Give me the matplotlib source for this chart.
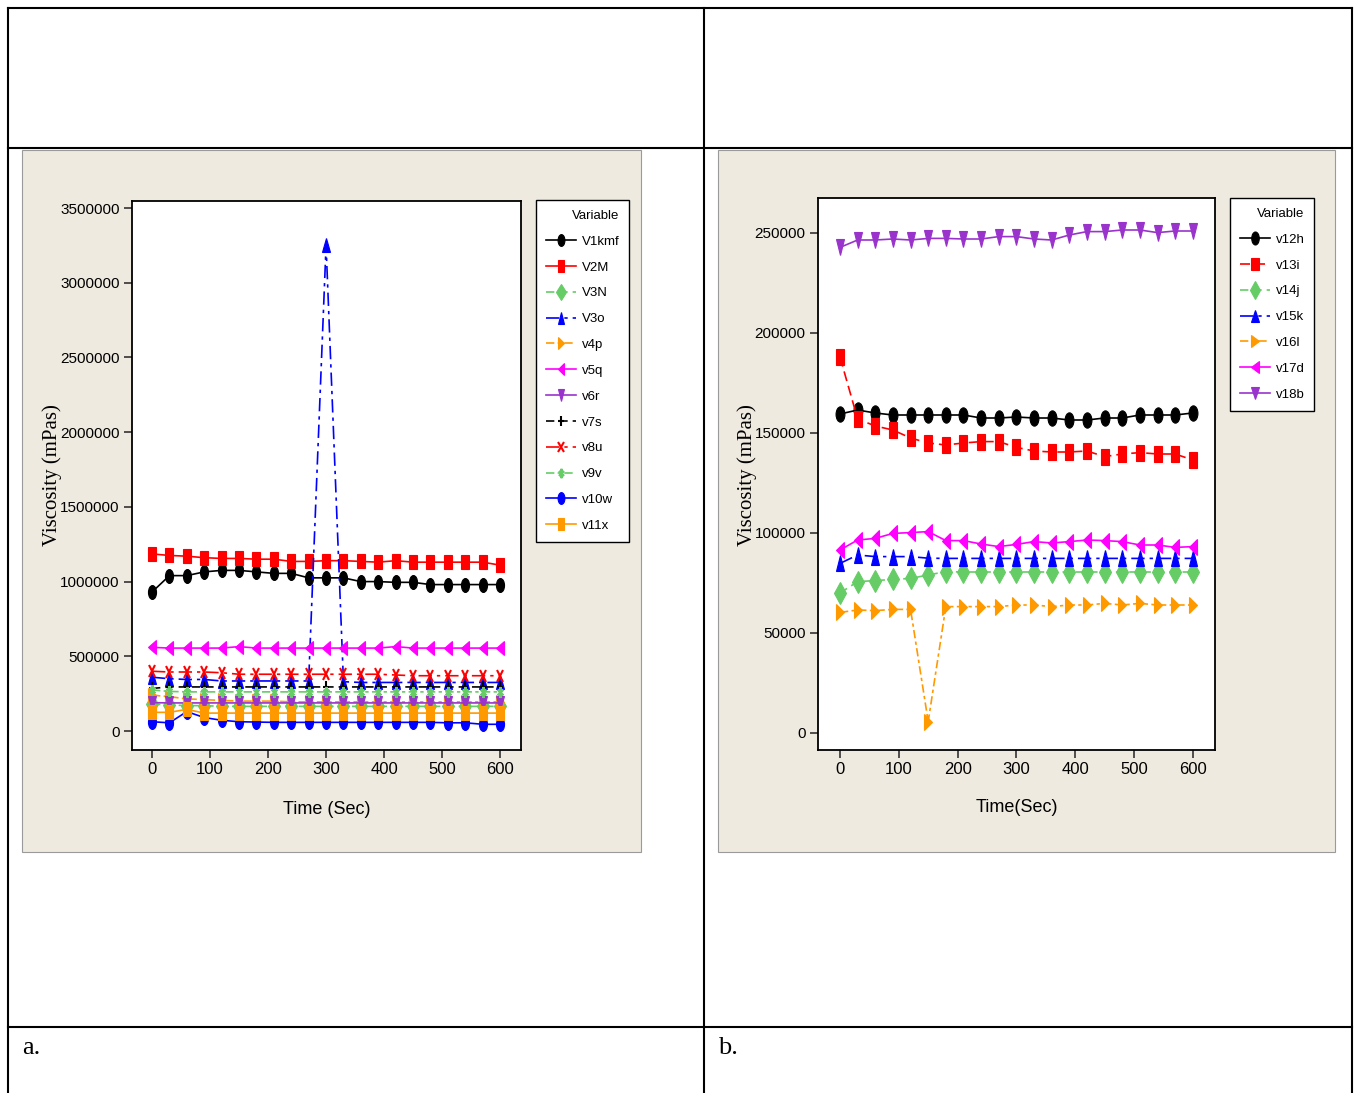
import matplotlib
matplotlib.use('Agg')
import matplotlib.pyplot as plt
from matplotlib.lines import Line2D
from matplotlib.markers import MarkerStyle
from matplotlib.patches import Rectangle
from matplotlib.transforms import Affine2D

W, H = 1357, 1093
SANS = ['Liberation Sans', 'DejaVu Sans']
SERIF = ['Liberation Serif', 'DejaVu Serif']

# time axis (sec)
time = [0, 30, 60, 90, 120, 150, 180, 210, 240, 270, 300,
        330, 360, 390, 420, 450, 480, 510, 540, 570, 600]

# ---- panel a ----
v1kmf = [930000, 1040000, 1040000, 1065000, 1075000, 1075000, 1065000, 1055000, 1055000, 1025000, 1025000,
         1025000, 1000000, 1000000, 995000, 995000, 980000, 980000, 980000, 980000, 980000]
v2m = [1185000, 1175000, 1170000, 1160000, 1155000, 1155000, 1150000, 1150000, 1135000, 1135000, 1140000,
       1140000, 1135000, 1130000, 1140000, 1130000, 1130000, 1130000, 1130000, 1130000, 1110000]
v3n = [180000, 175000, 170000, 170000, 165000, 165000, 165000, 165000, 165000, 165000, 165000,
       165000, 165000, 165000, 165000, 165000, 165000, 165000, 165000, 165000, 165000]
v3o = [360000, 350000, 345000, 345000, 335000, 335000, 335000, 335000, 335000, 335000, 3250000,
       330000, 325000, 325000, 325000, 325000, 325000, 325000, 325000, 325000, 325000]
v4p = [240000, 230000, 215000, 210000, 205000, 200000, 200000, 200000, 195000, 195000, 195000,
       195000, 195000, 195000, 195000, 195000, 195000, 195000, 195000, 195000, 195000]
v5q = [560000, 555000, 555000, 555000, 555000, 565000, 555000, 555000, 555000, 555000, 555000,
       555000, 555000, 555000, 565000, 555000, 555000, 555000, 555000, 555000, 555000]
v6r = [190000, 188000, 188000, 188000, 188000, 188000, 188000, 188000, 188000, 188000, 188000,
       188000, 188000, 188000, 188000, 188000, 188000, 188000, 188000, 188000, 188000]
v7s = [285000, 295000, 295000, 295000, 295000, 295000, 295000, 295000, 295000, 295000, 295000,
       295000, 295000, 295000, 295000, 295000, 295000, 295000, 295000, 295000, 295000]
v8u = [400000, 395000, 395000, 395000, 390000, 380000, 380000, 380000, 380000, 380000, 380000,
       380000, 380000, 380000, 375000, 370000, 370000, 370000, 370000, 370000, 370000]
v9v = [275000, 265000, 262000, 262000, 262000, 262000, 262000, 262000, 262000, 262000, 262000,
       262000, 262000, 262000, 262000, 262000, 262000, 262000, 262000, 262000, 262000]
v10w = [62000, 55000, 130000, 90000, 72000, 62000, 60000, 58000, 58000, 58000, 58000,
        58000, 58000, 58000, 58000, 58000, 58000, 55000, 55000, 45000, 45000]
v11x = [125000, 125000, 145000, 120000, 120000, 120000, 120000, 120000, 120000, 120000, 120000,
        120000, 120000, 120000, 120000, 120000, 120000, 120000, 120000, 120000, 120000]

# ---- panel b ----
v12h = [159500, 161500, 160000, 159000, 159000, 159000, 159000, 159000, 157500, 157500, 158000,
        157500, 157500, 156500, 156500, 157500, 157500, 159000, 159000, 159000, 160000]
v13i = [188000, 157000, 153500, 151500, 147500, 145000, 144000, 145000, 145700, 145700, 142800,
        141000, 140500, 140500, 141000, 138200, 139500, 140200, 139500, 139500, 136500]
v14j = [70000, 75700, 76200, 76800, 77300, 79000, 80700, 80500, 80500, 80500, 80500,
        80500, 80500, 80500, 80500, 80500, 80500, 80500, 80500, 80500, 80500]
v15k = [84800, 89000, 88200, 88200, 88200, 87400, 87300, 87300, 87300, 87300, 87300,
        87300, 87300, 87300, 87300, 87300, 87300, 87300, 87300, 87300, 87300]
v16l = [60300, 61500, 61200, 61800, 61800, 5700, 63200, 63200, 63200, 63200, 64000,
        64000, 63200, 64000, 64000, 64800, 64000, 64800, 64000, 64000, 64000]
v17d = [91500, 96500, 97300, 99800, 100200, 100700, 96200, 96200, 94500, 93200, 94300,
        95700, 95000, 95700, 96500, 96200, 95700, 94000, 94000, 92800, 93200]
v18b = [242800, 246500, 246500, 247000, 246500, 247300, 247300, 247000, 247000, 248200, 248200,
        247000, 246500, 249000, 250700, 250700, 251500, 251500, 250200, 251000, 251000]

left_yticks = [0, 500000, 1000000, 1500000, 2000000, 2500000, 3000000, 3500000]
right_yticks = [0, 50000, 100000, 150000, 200000, 250000]
xticks = [0, 100, 200, 300, 400, 500, 600]

BLACK, RED, GREEN, BLUE = 'black', '#FF0000', '#66CC66', '#0000FF'
ORANGE, MAGENTA, PURPLE = '#FF9900', '#FF00FF', '#9933CC'

SOLID = '-'
DASH = (0, (5, 3))
DASHDOT = (0, (8, 3, 2, 3))
DASHDOT2 = (0, (5, 2, 2, 2))
STAR = (6, 2, 0)


def mk(m):
    # squeeze markers horizontally like the original export
    return MarkerStyle(m, transform=Affine2D().scale(0.58, 1.0))


left_series = [
    ('V1kmf', v1kmf, BLACK, SOLID, 'o'),
    ('V2M', v2m, RED, SOLID, 's'),
    ('V3N', v3n, GREEN, DASH, 'D'),
    ('V3o', v3o, BLUE, DASHDOT, '^'),
    ('v4p', v4p, ORANGE, DASHDOT2, '>'),
    ('v5q', v5q, MAGENTA, SOLID, '<'),
    ('v6r', v6r, PURPLE, SOLID, 'v'),
    ('v7s', v7s, BLACK, DASH, '+'),
    ('v8u', v8u, RED, DASHDOT, 'x'),
    ('v9v', v9v, GREEN, DASHDOT2, STAR),
    ('v10w', v10w, BLUE, SOLID, 'o'),
    ('v11x', v11x, ORANGE, SOLID, 's'),
]
right_series = [
    ('v12h', v12h, BLACK, SOLID, 'o'),
    ('v13i', v13i, RED, (0, (6, 3)), 's'),
    ('v14j', v14j, GREEN, DASH, 'D'),
    ('v15k', v15k, BLUE, DASHDOT, '^'),
    ('v16l', v16l, ORANGE, DASHDOT2, '>'),
    ('v17d', v17d, MAGENTA, SOLID, '<'),
    ('v18b', v18b, PURPLE, SOLID, 'v'),
]


def fx(x):
    return x / W


def fy(y):
    return 1 - y / H


fig = plt.figure(figsize=(W / 100, H / 100), dpi=100)
fig.patch.set_facecolor('white')

# table grid
for x in [8, 704, 1352]:
    fig.add_artist(Line2D([fx(x), fx(x)], [fy(8), fy(1093)], color='black', lw=1.5))
for y in [8, 148, 1027]:
    fig.add_artist(Line2D([fx(8), fx(1352)], [fy(y), fy(y)], color='black', lw=1.5))

# beige plot panels
for x0, x1 in [(22, 641), (718, 1335)]:
    fig.add_artist(Rectangle((fx(x0), fy(852)), fx(x1) - fx(x0), fy(150) - fy(852),
                             transform=fig.transFigure, facecolor='#EEEAE0',
                             edgecolor='#9A9A9A', lw=0.8, zorder=-1))


def draw(rect, series, ylim, xlim, yticks, xlabel, ylabel_x, xlabel_y, leg_xy, legspace, msize):
    ax = fig.add_axes(rect)
    for name, vals, c, ls, m in series:
        thin = m in ('+', 'x') or m == STAR
        ax.plot(time, vals, color=c, linestyle=ls, lw=1.2, marker=mk(m),
                markersize=msize - 2 if thin else msize,
                markeredgewidth=1.5 if thin else 0.8, label=name)
    ax.set_xlim(*xlim)
    ax.set_ylim(*ylim)
    ax.set_xticks(xticks)
    ax.set_xticklabels([str(t) for t in xticks], family=SANS, fontsize=12)
    ax.set_yticks(yticks)
    ax.set_yticklabels([str(t) for t in yticks], family=SANS, fontsize=11)
    ax.tick_params(length=6, width=1.2, color='#333333', pad=3)
    for sp in ax.spines.values():
        sp.set_linewidth(1.3)
    cx = rect[0] + rect[2] / 2
    fig.text(cx, fy(xlabel_y), xlabel, family=SANS, fontsize=13, ha='center', va='center')
    fig.text(fx(ylabel_x), fy(475), 'Viscosity (mPas)', family=SERIF, fontsize=15,
             rotation=90, ha='center', va='center')
    leg = ax.legend(loc='upper left', bbox_to_anchor=(fx(leg_xy[0]), fy(leg_xy[1])),
                    bbox_transform=fig.transFigure, borderaxespad=0, title='Variable',
                    prop={'family': SANS, 'size': 9.5}, title_fontsize=9.5,
                    frameon=True, fancybox=False, edgecolor='black', framealpha=1,
                    labelspacing=legspace, handlelength=2.3, handletextpad=0.4,
                    borderpad=0.75, markerscale=0.85, alignment='right')
    leg.get_frame().set_linewidth(1.0)
    leg.get_title().set_family(SANS)
    return ax


draw([fx(132), fy(750), fx(521) - fx(132), fy(201) - fy(750)], left_series,
     (-127000, 3547000), (-34.5, 636), left_yticks, 'Time (Sec)', 52, 810, (536, 200), 1.03, 10)
draw([fx(818), fy(750), fx(1215) - fx(818), fy(198) - fy(750)], right_series,
     (-8500, 267500), (-37.4, 637.7), right_yticks, 'Time(Sec)', 747, 808, (1230, 198), 1.03, 11)

fig.text(fx(22), fy(1048), 'a.', family=SERIF, fontsize=19, ha='left', va='center')
fig.text(fx(718), fy(1048), 'b.', family=SERIF, fontsize=19, ha='left', va='center')

fig.savefig('out.png', dpi=100)
